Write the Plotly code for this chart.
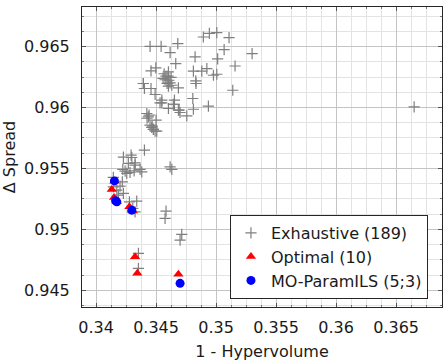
import plotly.graph_objects as go

# Exhaustive configurations (1 - Hypervolume, Delta Spread)
exh_hv = [0.3445, 0.34542, 0.34681, 0.34617, 0.34894, 0.34944, 0.35006, 0.35108, 0.35067, 0.353,
          0.34825, 0.35013, 0.34664, 0.35158, 0.34498, 0.34458, 0.34811, 0.34881, 0.34923, 0.34978,
          0.35006, 0.34603, 0.34567, 0.34583, 0.346, 0.34575, 0.34608, 0.34592, 0.34625, 0.34558,
          0.34831, 0.34394, 0.34403, 0.34458, 0.34492, 0.34617, 0.34631, 0.34686, 0.34603, 0.35139,
          0.34548, 0.34533, 0.34653, 0.34644, 0.34806, 0.34603, 0.34692, 0.347, 0.34756, 0.34811,
          0.34936, 0.34423, 0.34442, 0.34436, 0.34425, 0.345, 0.3445, 0.34464, 0.34478, 0.34506,
          0.34467, 0.34403, 0.34228, 0.34292, 0.34298, 0.34269, 0.34325, 0.34325, 0.34223, 0.34242,
          0.34256, 0.34283, 0.34317, 0.34367, 0.34381, 0.34617, 0.34631, 0.34144, 0.34219, 0.342,
          0.34144, 0.34173, 0.34228, 0.34186, 0.34278, 0.34339, 0.34306, 0.34325, 0.34583, 0.34575,
          0.34714, 0.347, 0.34353, 0.34353, 0.3665, 0.34394, 0.34548, 0.34653, 0.34686, 0.34833,
          0.34478, 0.34492]
exh_sp = [0.96502, 0.96502, 0.96525, 0.96451, 0.96579, 0.96609, 0.96615, 0.96574, 0.96475, 0.96443,
          0.96415, 0.964, 0.96361, 0.96341, 0.96325, 0.963, 0.96298, 0.96298, 0.9632, 0.96265,
          0.96273, 0.96292, 0.96277, 0.96257, 0.96257, 0.96228, 0.96224, 0.96199, 0.96248, 0.9624,
          0.96218, 0.96197, 0.96156, 0.96156, 0.96107, 0.96202, 0.96183, 0.96161, 0.96175, 0.96142,
          0.9606, 0.96038, 0.9606, 0.96027, 0.96074, 0.95992, 0.95978, 0.95959, 0.95931, 0.95986,
          0.96011, 0.95951, 0.95937, 0.95923, 0.95912, 0.95896, 0.95855, 0.95836, 0.9582, 0.95806,
          0.95847, 0.9565, 0.95593, 0.95609, 0.9559, 0.95541, 0.95546, 0.95527, 0.95492, 0.95478,
          0.95459, 0.95467, 0.9548, 0.95492, 0.95472, 0.95513, 0.95492, 0.95426, 0.9539, 0.95355,
          0.95349, 0.95322, 0.95295, 0.95281, 0.95226, 0.95232, 0.95172, 0.95144, 0.9515, 0.9509,
          0.94959, 0.94912, 0.94803, 0.9468, 0.96005, 0.96197, 0.96038, 0.96027, 0.95978, 0.96197,
          0.9582, 0.95806]

# Optimal configurations
opt_hv = [0.34131, 0.3415, 0.34278, 0.34306, 0.34325, 0.34344, 0.34686, 0.34153, 0.34173, 0.34298]
opt_sp = [0.95328, 0.95262, 0.95185, 0.9515, 0.94775, 0.94639, 0.94631, 0.95396, 0.95228, 0.95158]

# MO-ParamILS configurations
mo_hv = [0.34153, 0.34173, 0.34298, 0.347, 0.34163]
mo_sp = [0.95398, 0.95226, 0.95158, 0.94557, 0.95235]

x_tickvals = [0.34, 0.345, 0.35, 0.355, 0.36, 0.365]
x_ticktext = ["0.34", "0.345", "0.35", "0.355", "0.36", "0.365"]
y_tickvals = [0.945, 0.95, 0.955, 0.96, 0.965]
y_ticktext = ["0.945", "0.95", "0.955", "0.96", "0.965"]

FONT = "DejaVu Sans"

fig = go.Figure()
fig.add_trace(go.Scatter(
    x=exh_hv, y=exh_sp, mode="markers", name="Exhaustive (189)",
    marker=dict(symbol="cross-thin", size=8, line=dict(color="#7f7f7f", width=1.2), color="#7f7f7f"),
))
fig.add_trace(go.Scatter(
    x=opt_hv, y=opt_sp, mode="markers", name="Optimal (10)",
    marker=dict(symbol="triangle-up", size=9, color="#ff0000", line=dict(width=0)),
))
fig.add_trace(go.Scatter(
    x=mo_hv, y=mo_sp, mode="markers", name="MO-ParamILS (5;3)",
    marker=dict(symbol="circle", size=9, color="#0000ff", line=dict(width=0)),
))

axis_common = dict(
    showline=True, linecolor="#262626", linewidth=1, mirror="ticks",
    ticks="inside", ticklen=4, tickcolor="#555555", tickwidth=1,
    showgrid=True, gridcolor="#c4c4c4", gridwidth=1,
    zeroline=False,
    tickfont=dict(family=FONT, size=16, color="#1a1a1a"),
    title_font=dict(family=FONT, size=16, color="#1a1a1a"),
    minor=dict(dtick=0.00125, showgrid=True, gridcolor="#e3e3e3", gridwidth=1,
               ticks="inside", ticklen=2, tickcolor="#777777"),
)

fig.update_xaxes(range=[0.33883, 0.36882], tickmode="array", tickvals=x_tickvals,
                 ticktext=x_ticktext, title_text="1 - Hypervolume", title_standoff=10,
                 ticklabelstandoff=6, **axis_common)
fig.update_yaxes(range=[0.94363, 0.96825], tickmode="array", tickvals=y_tickvals,
                 ticktext=y_ticktext, title_text="Δ Spread", title_standoff=6,
                 ticklabelstandoff=8, **axis_common)

fig.update_layout(
    width=443, height=361,
    margin=dict(l=82, r=1, t=7, b=54),
    paper_bgcolor="white", plot_bgcolor="white",
    font=dict(family=FONT, size=16, color="#1a1a1a"),
    legend=dict(
        x=0.961, y=0.307, xanchor="right", yanchor="top",
        bgcolor="white", bordercolor="#262626", borderwidth=1,
        font=dict(family=FONT, size=16, color="#1a1a1a"),
        itemwidth=30,
    ),
    showlegend=True,
)

fig.write_html("out.html")
